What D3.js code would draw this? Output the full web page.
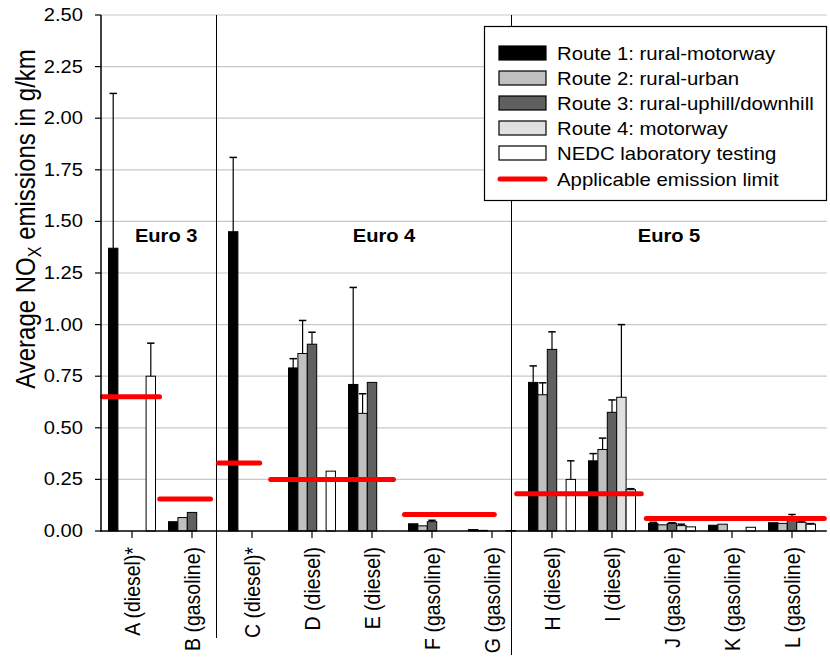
<!DOCTYPE html>
<html><head><meta charset="utf-8">
<script src="https://cdn.jsdelivr.net/npm/d3@7"></script>
<style>body{margin:0;background:#fff}svg{display:block}text{font-family:"Liberation Sans",Arial,sans-serif;fill:#000}</style>
</head><body><div id="chart"></div>
<script>
// ---- data ----
const categories = ["A (diesel)*","B (gasoline)","C (diesel)*","D (diesel)","E (diesel)","F (gasoline)","G (gasoline)","H (diesel)","I (diesel)","J (gasoline)","K (gasoline)","L (gasoline)"];
const seriesNames = ["Route 1: rural-motorway","Route 2: rural-urban","Route 3: rural-uphill/downhill","Route 4: motorway","NEDC laboratory testing"];
const route1    = [1.37, 0.045, 1.45, 0.79, 0.71, 0.035, 0.007, 0.72, 0.34, 0.037, 0.028, 0.04];
const route1Err = [2.12, null, 1.81, 0.835, 1.18, null, null, 0.80, 0.375, 0.042, null, null];
const route2    = [null, 0.065, null, 0.86, 0.57, 0.025, 0.003, 0.66, 0.395, 0.03, 0.033, 0.037];
const route2Err = [null, null, null, 1.02, 0.665, null, null, 0.718, 0.45, null, null, null];
const route3    = [null, 0.09, null, 0.905, 0.72, 0.045, null, 0.88, 0.575, 0.037, null, 0.065];
const route3Err = [null, null, null, 0.963, null, 0.052, null, 0.965, 0.635, 0.04, null, 0.08];
const route4    = [null, null, null, null, null, null, null, null, 0.648, 0.026, null, 0.042];
const route4Err = [null, null, null, null, null, null, null, null, 1.0, 0.033, null, 0.048];
const nedc      = [0.75, null, null, 0.29, null, null, 0.002, 0.25, 0.20, 0.02, 0.018, 0.033];
const nedcErr   = [0.91, null, null, null, null, null, null, 0.34, 0.205, null, null, 0.036];
const limitLabel = "Applicable emission limit";
const limitValues = [0.65, 0.155, 0.33, 0.25, 0.08, 0.18, 0.06];
const limitStart  = [-0.53, 0.42, 1.40, 2.27, 4.50, 6.37, 8.53];   // in category-index units
const limitEnd    = [0.50, 1.35, 2.17, 4.40, 6.08, 8.53, 11.58];
const groupNames = ["Euro 3","Euro 4","Euro 5"];
const groupLabelPos = [0.57, 4.2, 8.95];   // category-index units
const groupSeparators = [1.4, 6.317];
const yTickValues = [0,0.25,0.5,0.75,1.0,1.25,1.5,1.75,2.0,2.25,2.5];
const yTitle = ["Average NO","X"," emissions in g/km"];

// ---- layout ----
const W = 830, H = 659;
const SX = 1.15;
const svg = d3.select("#chart").append("svg").attr("width", W).attr("height", H);
const x = d3.scaleLinear().domain([-0.5, 11.5]).range([102, 822]);
const y = d3.scaleLinear().domain([0, 2.5]).range([531, 15]);
const xLeft = 101, xRight = x(11.58);
const groupW = 47, barW = groupW / 5;
const fills = ["#000000","#c0c0c0","#606060","#e0e0e0","#ffffff"];
const values = [route1, route2, route3, route4, nedc];
const errs = [route1Err, route2Err, route3Err, route4Err, nedcErr];

function htext(g, px, py, str, size, opts = {}) {
  return g.append("text")
    .attr("transform", `translate(${px},${py}) scale(${opts.sx || SX},1)`)
    .attr("font-size", size).attr("font-weight", opts.bold ? "bold" : null)
    .attr("text-anchor", opts.anchor || "start")
    .text(str);
}

// gridlines
svg.append("g").selectAll("line").data(yTickValues.filter(d => d > 0)).join("line")
  .attr("x1", xLeft).attr("x2", xRight).attr("y1", d => y(d)).attr("y2", d => y(d))
  .attr("stroke", "#c8c8c8").attr("stroke-width", 1.2);

// separators
svg.append("g").selectAll("line").data(groupSeparators).join("line")
  .attr("x1", d => Math.round(x(d)) + 0.5).attr("x2", d => Math.round(x(d)) + 0.5)
  .attr("y1", y(2.5)).attr("y2", (d, i) => i === 0 ? 638 : 655)
  .attr("stroke", "#000").attr("stroke-width", 1);

// bars
const barData = [];
categories.forEach((c, ci) => values.forEach((s, si) => {
  if (s[ci] != null) barData.push({ci, si, v: s[ci], e: errs[si][ci]});
}));
const bx = d => x(d.ci) - groupW / 2 + d.si * barW;
const gBars = svg.append("g");
gBars.selectAll("rect").data(barData).join("rect")
  .attr("x", bx).attr("width", barW)
  .attr("y", d => y(d.v)).attr("height", d => y(0) - y(d.v))
  .attr("fill", d => fills[d.si]).attr("stroke", "#000").attr("stroke-width", 1);

// error bars
const errData = barData.filter(d => d.e != null);
const gErr = svg.append("g").attr("stroke", "#000").attr("stroke-width", 1.2);
gErr.selectAll("line.w").data(errData).join("line").attr("class", "w")
  .attr("x1", d => bx(d) + barW / 2).attr("x2", d => bx(d) + barW / 2)
  .attr("y1", d => y(d.v)).attr("y2", d => y(d.e));
gErr.selectAll("line.c").data(errData).join("line").attr("class", "c")
  .attr("x1", d => bx(d) + 1).attr("x2", d => bx(d) + barW - 1)
  .attr("y1", d => y(d.e)).attr("y2", d => y(d.e)).attr("stroke-width", 1.5);

// limit lines
svg.append("g").selectAll("line").data(limitValues).join("line")
  .attr("x1", (d, i) => x(limitStart[i]) + 2.5).attr("x2", (d, i) => x(limitEnd[i]) - 2.5)
  .attr("y1", d => y(d)).attr("y2", d => y(d))
  .attr("stroke", "#ff0000").attr("stroke-width", 5).attr("stroke-linecap", "round");

// axes
const yAxisG = svg.append("g");
yAxisG.append("line").attr("x1", xLeft).attr("x2", xLeft).attr("y1", y(2.5)).attr("y2", y(0) + 0.5)
  .attr("stroke", "#000").attr("stroke-width", 1.5);
yAxisG.selectAll("line.t").data(yTickValues).join("line").attr("class", "t")
  .attr("x1", xLeft - 6).attr("x2", xLeft).attr("y1", d => y(d)).attr("y2", d => y(d))
  .attr("stroke", "#000").attr("stroke-width", 1.2);
yTickValues.forEach(v => htext(svg, 83, y(v) + 6, d3.format(".2f")(v), 17.5, {anchor: "end"}));

svg.append("line").attr("x1", xLeft - 1).attr("x2", xRight).attr("y1", y(0)).attr("y2", y(0))
  .attr("stroke", "#000").attr("stroke-width", 1.5);
svg.append("g").selectAll("line").data(categories).join("line")
  .attr("x1", (d, i) => x(i)).attr("x2", (d, i) => x(i)).attr("y1", y(0)).attr("y2", y(0) + 7)
  .attr("stroke", "#000").attr("stroke-width", 1.2);
categories.forEach((c, i) => {
  svg.append("text")
    .attr("transform", `translate(${x(i) + 8},547) rotate(-90) scale(1,1.15)`)
    .attr("font-size", 19.5).attr("text-anchor", "end").text(c);
});

// y title
const yt = svg.append("text")
  .attr("transform", `translate(35,219) rotate(-90) scale(1,1.15)`)
  .attr("font-size", 24).attr("text-anchor", "middle");
yt.append("tspan").text(yTitle[0]);
yt.append("tspan").attr("font-size", 16).attr("dy", 5).text(yTitle[1]);
yt.append("tspan").attr("dy", -5).text(yTitle[2]);

// group labels
groupNames.forEach((g, i) => htext(svg, x(groupLabelPos[i]), 242, g, 17.5, {anchor: "middle", bold: true}));

// legend
const lg = svg.append("g");
lg.append("rect").attr("x", 484.5).attr("y", 26.5).attr("width", 342).attr("height", 174)
  .attr("fill", "#fff").attr("stroke", "#000").attr("stroke-width", 1.2);
const legY = [53, 78, 103, 128, 153, 179];
seriesNames.forEach((n, i) => {
  lg.append("rect").attr("x", 499).attr("y", legY[i] - 7).attr("width", 47).attr("height", 14)
    .attr("fill", fills[i]).attr("stroke", "#000").attr("stroke-width", 1.2);
  htext(lg, 557, legY[i] + 6.5, n, 17.7);
});
lg.append("line").attr("x1", 500).attr("x2", 545).attr("y1", legY[5]).attr("y2", legY[5])
  .attr("stroke", "#ff0000").attr("stroke-width", 5).attr("stroke-linecap", "round");
htext(lg, 557, legY[5] + 6.5, limitLabel, 17.7);
</script></body></html>
